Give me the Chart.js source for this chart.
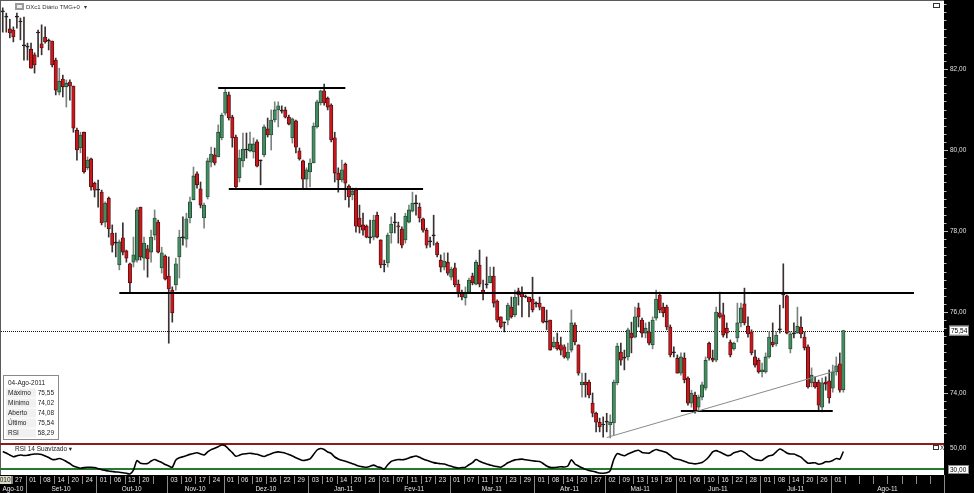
<!DOCTYPE html>
<html>
<head>
<meta charset="utf-8">
<script src="https://cdn.jsdelivr.net/npm/chart.js@4.4.1/dist/chart.umd.min.js"></script>
<style>
  html, body { margin: 0; padding: 0; background: #000; }
  #wrap { position: relative; width: 974px; height: 493px; background: #000; overflow: hidden; }
  #price { position: absolute; left: 0; top: 0; }
  #rsi { position: absolute; left: 0; top: 442px; }
</style>
</head>
<body>
<div id="wrap">
  <canvas id="price" width="974" height="442"></canvas>
  <canvas id="rsi" width="974" height="51"></canvas>
</div>
<script>
// DXc1 daily candles, 25-Aug-2010 .. 04-Aug-2011
const openP = [
  83.41, 83.28, 82.99, 82.96, 83.28, 83.16, 82.57, 82.54, 82.49, 82.35,
  82.89, 82.62, 82.79, 82.69, 82.69, 82.22, 81.43, 81.75, 81.56, 81.68,
  81.58, 80.49, 80.05, 80.44, 79.56, 79.78, 79.18, 79.01, 78.96, 78.22,
  78.81, 77.95, 77.70, 77.16, 77.83, 77.51, 77.19, 77.23, 77.28, 78.59,
  77.33, 77.56, 77.48, 77.90, 78.22, 77.09, 77.38, 76.89, 76.54, 76.67,
  77.36, 77.83, 77.80, 78.32, 78.77, 79.41, 79.04, 78.32, 78.84, 79.70,
  79.88, 79.83, 80.30, 80.91, 81.36, 80.81, 80.32, 79.31, 79.73, 80.00,
  79.98, 79.95, 80.20, 79.73, 79.88, 80.52, 80.37, 80.74, 80.99, 80.96,
  80.99, 80.81, 80.30, 80.72, 79.98, 79.73, 79.28, 79.46, 79.68, 80.57,
  81.16, 81.46, 81.28, 81.11, 80.30, 79.43, 79.26, 79.65, 79.11, 78.89,
  79.01, 78.32, 78.15, 78.12, 77.83, 77.85, 78.39, 77.78, 77.16, 77.21,
  77.95, 78.20, 78.12, 78.05, 77.78, 78.22, 78.49, 78.67, 78.59, 78.30,
  78.02, 77.73, 77.88, 77.70, 77.28, 77.11, 77.23, 76.86, 77.09, 76.69,
  76.47, 76.35, 76.49, 76.89, 76.69, 77.16, 76.54, 76.67, 76.72, 76.89,
  76.27, 75.88, 75.73, 75.80, 76.12, 75.93, 76.52, 76.47, 76.37, 76.37,
  76.32, 76.20, 76.22, 76.12, 75.75, 75.80, 75.14, 75.26, 75.19, 75.14,
  74.86, 75.06, 75.68, 75.19, 74.20, 74.27, 74.27, 73.75, 73.50, 73.28,
  73.21, 73.28, 73.21, 73.26, 74.25, 75.01, 74.86, 74.89, 75.48, 75.38,
  76.10, 75.80, 75.48, 75.51, 75.19, 75.85, 76.42, 76.12, 76.12, 75.63,
  74.99, 74.86, 74.49, 74.86, 74.37, 73.75, 73.95, 73.65, 73.90, 74.12,
  75.23, 74.86, 74.81, 75.98, 75.93, 75.60, 75.26, 75.09, 75.36, 75.73,
  76.20, 75.65, 75.51, 74.89, 74.81, 74.52, 74.52, 74.89, 75.26, 75.21,
  75.56, 76.42, 76.40, 75.09, 75.46, 75.48, 75.63, 75.38, 75.14, 74.25,
  74.27, 74.27, 73.65, 74.27, 74.30, 74.12, 74.52, 74.72, 74.08
];
const highP = [
  83.51, 83.38, 83.23, 83.04, 83.38, 83.26, 83.28, 82.64, 82.64, 82.40,
  82.96, 83.09, 83.04, 82.74, 82.69, 82.27, 82.02, 81.85, 81.73, 81.73,
  81.58, 80.54, 80.44, 80.44, 79.83, 79.80, 79.21, 79.26, 79.01, 78.72,
  78.84, 78.15, 77.95, 77.78, 78.20, 77.53, 77.21, 77.85, 78.57, 78.59,
  77.85, 77.65, 78.02, 78.52, 78.27, 77.60, 77.41, 77.36, 76.62, 77.33,
  78.02, 78.35, 78.44, 78.84, 79.58, 79.46, 79.21, 78.69, 79.80, 80.07,
  80.05, 80.62, 80.91, 81.53, 81.43, 80.86, 80.37, 80.00, 80.42, 80.42,
  80.44, 80.30, 80.25, 79.75, 80.62, 80.79, 80.99, 81.19, 81.19, 81.09,
  81.06, 80.86, 80.79, 80.74, 80.05, 79.75, 79.56, 79.78, 80.67, 81.23,
  81.48, 81.63, 81.31, 81.14, 80.44, 79.56, 79.75, 79.68, 79.14, 79.06,
  79.06, 78.64, 78.44, 78.15, 78.27, 78.39, 78.47, 77.78, 77.28, 77.95,
  78.35, 78.44, 78.22, 78.10, 78.44, 78.64, 78.96, 78.89, 78.69, 78.32,
  78.07, 77.85, 78.39, 77.73, 77.41, 77.46, 77.46, 77.11, 77.21, 76.79,
  76.54, 76.62, 76.84, 76.96, 77.28, 77.53, 76.79, 77.36, 77.11, 77.11,
  76.30, 75.88, 75.75, 76.22, 76.37, 76.54, 76.59, 76.62, 76.42, 76.37,
  76.86, 76.25, 76.37, 76.12, 76.05, 75.80, 75.38, 75.48, 75.38, 75.19,
  75.23, 76.05, 75.73, 75.19, 74.49, 74.49, 74.32, 74.00, 73.53, 73.38,
  73.41, 73.50, 73.46, 74.32, 75.23, 75.23, 75.06, 75.60, 75.75, 76.12,
  76.22, 75.85, 75.73, 75.75, 75.88, 76.54, 76.49, 76.22, 76.17, 75.68,
  75.14, 74.94, 74.99, 74.99, 74.40, 74.07, 74.02, 73.95, 74.27, 74.89,
  75.26, 75.06, 76.12, 76.49, 76.22, 75.73, 75.31, 75.26, 76.22, 76.22,
  76.59, 75.88, 75.56, 75.06, 74.86, 74.74, 74.99, 75.51, 75.73, 75.51,
  76.17, 77.19, 76.42, 75.51, 75.73, 76.12, 75.88, 75.51, 75.19, 74.62,
  74.40, 74.32, 74.37, 74.40, 74.57, 74.69, 74.89, 74.99, 75.55
];
const lowP = [
  82.91, 82.91, 82.77, 82.67, 83.01, 82.72, 82.22, 82.22, 82.02, 81.90,
  82.30, 82.35, 82.64, 82.47, 82.05, 81.36, 81.36, 81.31, 81.06, 81.23,
  80.44, 79.75, 79.93, 79.43, 79.51, 79.01, 78.84, 78.59, 78.15, 78.10,
  77.85, 77.48, 77.36, 77.04, 77.41, 77.23, 76.47, 77.11, 77.23, 77.28,
  77.04, 76.86, 77.23, 77.78, 77.46, 76.96, 76.79, 75.23, 75.75, 76.54,
  76.84, 77.65, 77.60, 78.20, 78.77, 79.06, 78.57, 78.07, 78.79, 79.58,
  79.63, 79.83, 80.25, 80.86, 80.74, 80.07, 79.06, 79.21, 79.58, 79.80,
  79.95, 79.80, 79.58, 79.14, 79.83, 80.32, 80.00, 80.69, 80.57, 80.91,
  80.79, 80.62, 80.17, 79.93, 79.75, 79.06, 79.06, 79.09, 79.68, 80.54,
  81.11, 81.11, 80.99, 80.20, 79.21, 78.96, 79.21, 78.77, 78.59, 78.77,
  77.97, 77.95, 77.90, 77.83, 77.70, 77.78, 77.83, 77.09, 76.99, 77.11,
  77.70, 77.95, 77.70, 77.58, 77.70, 78.20, 78.47, 78.39, 78.22, 77.97,
  77.58, 77.60, 77.65, 77.36, 76.99, 77.04, 76.91, 76.79, 76.62, 76.37,
  76.30, 76.17, 76.47, 76.67, 76.67, 76.62, 76.30, 76.59, 76.72, 76.12,
  75.75, 75.60, 75.51, 75.68, 75.85, 75.88, 76.17, 75.88, 76.35, 75.88,
  76.00, 76.12, 76.05, 75.73, 75.56, 75.06, 75.11, 75.06, 74.94, 74.86,
  74.81, 75.01, 75.19, 74.44, 73.90, 73.90, 73.88, 73.41, 73.04, 73.04,
  72.91, 73.04, 72.89, 72.96, 74.20, 74.69, 74.57, 74.81, 74.99, 75.36,
  75.63, 75.38, 75.36, 75.19, 75.09, 75.80, 75.98, 75.88, 75.56, 74.89,
  74.89, 74.49, 74.44, 74.25, 73.70, 73.65, 73.50, 73.58, 73.83, 74.07,
  74.81, 74.77, 74.77, 75.85, 75.38, 75.36, 74.89, 75.06, 75.26, 75.63,
  75.68, 75.38, 74.94, 74.64, 74.49, 74.40, 74.49, 74.86, 75.14, 75.16,
  75.48, 76.10, 75.46, 74.99, 75.36, 75.48, 75.36, 75.06, 74.12, 74.15,
  74.12, 73.58, 73.53, 74.07, 73.75, 74.02, 74.44, 74.02, 74.02
];
const closeP = [
  83.41, 83.28, 82.89, 82.79, 83.28, 83.16, 82.57, 82.54, 82.02, 82.10,
  82.89, 82.52, 82.67, 82.69, 82.10, 81.48, 81.70, 81.56, 81.65, 81.58,
  80.54, 80.00, 80.37, 79.46, 79.75, 79.09, 79.01, 79.01, 78.20, 78.69,
  78.05, 77.65, 77.70, 77.73, 77.48, 77.33, 76.72, 77.41, 78.52, 77.36,
  77.70, 77.31, 77.85, 78.32, 77.48, 77.46, 76.81, 76.57, 75.98, 77.19,
  77.85, 77.83, 78.30, 78.72, 79.36, 79.14, 78.64, 78.64, 79.73, 79.90,
  79.68, 80.44, 80.86, 81.43, 80.79, 80.30, 79.09, 79.80, 80.02, 80.00,
  80.15, 80.15, 79.60, 79.73, 80.57, 80.37, 80.74, 80.99, 81.09, 80.96,
  80.81, 80.64, 80.77, 80.07, 79.78, 79.28, 79.51, 79.68, 80.59, 81.19,
  81.46, 81.16, 81.06, 80.25, 79.43, 79.26, 79.51, 79.18, 78.84, 78.99,
  78.12, 78.10, 78.02, 77.85, 77.83, 78.27, 77.85, 77.16, 77.16, 77.90,
  78.17, 78.20, 78.10, 77.65, 78.37, 78.52, 78.69, 78.67, 78.32, 78.02,
  77.65, 77.73, 77.88, 77.41, 77.11, 77.26, 76.96, 77.06, 76.67, 76.47,
  76.37, 76.49, 76.79, 76.72, 77.23, 76.69, 76.47, 76.67, 76.89, 76.22,
  75.80, 75.63, 75.73, 76.17, 75.88, 76.37, 76.42, 76.37, 76.37, 76.25,
  76.05, 76.20, 76.12, 75.75, 75.75, 75.06, 75.26, 75.09, 75.06, 74.89,
  75.01, 75.73, 75.26, 74.49, 74.27, 74.20, 73.95, 73.50, 73.28, 73.16,
  73.21, 73.28, 73.28, 74.27, 75.16, 74.81, 74.86, 75.56, 75.36, 75.88,
  75.88, 75.48, 75.60, 75.23, 75.80, 76.32, 76.05, 75.98, 75.63, 74.94,
  74.99, 74.49, 74.89, 74.32, 73.75, 74.00, 73.53, 73.90, 74.20, 74.81,
  74.86, 74.81, 76.00, 75.88, 75.43, 75.48, 74.94, 75.23, 75.73, 76.10,
  75.73, 75.46, 74.99, 74.69, 74.52, 74.57, 74.89, 75.38, 75.19, 75.43,
  75.56, 76.42, 75.48, 75.46, 75.46, 75.65, 75.46, 75.11, 74.15, 74.44,
  74.15, 73.70, 74.25, 74.22, 73.88, 74.52, 74.67, 74.07, 75.54
];
// RSI 14 suavizado
const rsiValues = [
  58.2, 55.9, 52.7, 50.1, 51.5, 52.7, 52.0, 52.3, 53.5, 54.3,
  54.3, 53.4, 51.2, 48.7, 45.8, 45.7, 47.3, 45.5, 42.5, 39.4,
  35.5, 33.6, 32.0, 33.0, 33.5, 33.5, 33.0, 31.3, 29.7, 28.6,
  27.6, 26.9, 26.2, 25.8, 25.0, 24.0, 22.9, 29.2, 44.1, 39.7,
  39.1, 39.4, 43.3, 45.7, 43.3, 41.0, 37.8, 35.5, 33.5, 44.9,
  48.4, 49.9, 51.8, 53.7, 55.1, 56.2, 54.3, 52.7, 57.5, 61.2,
  63.4, 65.8, 68.4, 67.3, 61.5, 56.5, 50.7, 52.4, 54.2, 54.8,
  55.4, 54.6, 53.8, 51.8, 50.4, 52.7, 54.8, 56.7, 57.6, 56.7,
  55.6, 53.5, 51.2, 48.5, 46.0, 44.1, 44.9, 46.5, 53.5, 60.6,
  62.9, 61.4, 57.5, 55.1, 49.6, 46.5, 44.4, 43.0, 41.0, 39.1,
  37.1, 35.0, 34.1, 33.6, 35.0, 36.9, 34.5, 33.0, 30.6, 37.4,
  42.7, 44.6, 45.7, 45.2, 46.0, 48.2, 49.8, 51.2, 49.1, 46.6,
  44.4, 42.5, 40.8, 39.7, 39.1, 38.5, 36.7, 35.2, 33.3, 32.2,
  33.0, 33.6, 37.4, 40.7, 45.7, 43.0, 40.5, 38.6, 37.1, 35.5,
  34.5, 33.6, 36.7, 40.5, 43.0, 45.1, 45.8, 46.2, 45.2, 44.6,
  43.6, 43.0, 42.4, 39.4, 35.5, 33.3, 33.0, 33.6, 34.4, 33.9,
  35.5, 45.2, 38.6, 35.5, 32.7, 30.2, 28.3, 27.2, 25.9, 24.5,
  24.2, 24.8, 28.4, 45.7, 54.9, 53.1, 51.5, 54.2, 56.7, 59.0,
  60.1, 56.8, 55.9, 55.7, 59.0, 61.4, 59.8, 58.1, 56.2, 52.1,
  47.7, 46.2, 44.9, 42.9, 40.7, 39.7, 38.8, 39.7, 41.0, 44.9,
  50.5, 57.5, 59.6, 57.3, 54.8, 52.1, 52.3, 56.2, 57.8, 59.3,
  56.8, 52.7, 48.7, 45.7, 44.6, 44.4, 48.5, 51.5, 52.7, 57.8,
  62.2, 59.6, 55.9, 54.3, 54.3, 52.0, 49.3, 44.4, 39.9, 40.2,
  40.5, 38.3, 39.4, 42.2, 42.2, 44.1, 47.3, 46.2, 58.29
];

// drawn support / resistance levels (bar index range, price)
const levelLines = [
  { price: 81.53, from: 61, to: 97 },
  { price: 79.04, from: 64, to: 119 },
  { price: 76.46, from: 33, to: 258 },
  { price: 73.55, from: 192, to: 235 }
];
const trendLine = { from: 171, to: 236, start: 72.90, end: 74.55 };

// axis texts
const priceTicks = [74, 76, 78, 80, 82];
const dayLabels = [
  '27', '01', '08', '14', '20', '24', '01', '06', '13', '20', '',
  '03', '10', '17', '24', '01', '06', '10', '16', '22', '29',
  '03', '10', '14', '20', '26', '01', '07', '11', '17', '23',
  '01', '07', '11', '17', '23', '29', '01', '08', '14', '20', '27',
  '02', '09', '13', '19', '26', '01', '06', '10', '16', '22', '28',
  '01', '08', '14', '20', '26', '01', '', '', '', '', '', '', ''
];
const monthLabels = ['Ago-10', 'Set-10', 'Out-10', 'Nov-10', 'Dez-10', 'Jan-11', 'Fev-11',
  'Mar-11', 'Abr-11', 'Mai-11', 'Jun-11', 'Jul-11', 'Ago-11'];
const monthStartCell = [-1, 1, 6, 11, 15, 21, 26, 31, 37, 42, 47, 53, 58];
const rsiLevels = [{ value: 70, color: '#8c1c1c' }, { value: 30, color: '#247a30' }];
const monthNames = ['Jan', 'Fev', 'Mar', 'Abr', 'Mai', 'Jun', 'Jul', 'Ago', 'Set', 'Out', 'Nov', 'Dez'];

// trading calendar (weekdays minus exchange holidays), runs past the data to fill the axis
const holidays = ['2010-09-06', '2010-11-25', '2010-12-24', '2011-01-17', '2011-02-21',
  '2011-04-22', '2011-05-30', '2011-07-04', '2011-09-05'];
const dates = [];
for (let d = new Date(Date.UTC(2010, 7, 25)); d <= new Date(Date.UTC(2011, 8, 14)); d.setUTCDate(d.getUTCDate() + 1)) {
  const iso = d.toISOString().slice(0, 10);
  if (d.getUTCDay() % 6 !== 0 && !holidays.includes(iso)) dates.push(iso);
}

const FONT = '6.5px "Liberation Sans", Arial, "DejaVu Sans", sans-serif';
const TITLE_FONT = '6px "Liberation Sans", Arial, "DejaVu Sans", sans-serif';
const UP = '#418d60', DOWN = '#c9171e', DOJI = '#1e1e1e';
const fmt = v => v.toFixed(2).replace('.', ',');
const last = closeP.length - 1;

const bodyFill = openP.map((o, i) => closeP[i] > o ? UP : closeP[i] < o ? DOWN : DOJI);
const bodyEdge = openP.map((o, i) => closeP[i] > o ? '#23402e' : closeP[i] < o ? '#4a0c0c' : DOJI);
const wickColor = openP.map((o, i) => closeP[i] > o ? '#7b8580' : '#3a3030');

const pricePanel = {
  id: 'pricePanel',
  beforeDraw(chart) {
    const { ctx, chartArea: a, scales: { y } } = chart;
    ctx.save();
    ctx.fillStyle = '#fff';
    ctx.fillRect(0, 0, a.right, chart.height);
    ctx.strokeStyle = '#5a5a5a';
    ctx.lineWidth = 1;
    ctx.beginPath();
    ctx.moveTo(0, 0.5); ctx.lineTo(a.right, 0.5);
    ctx.moveTo(0.5, 0); ctx.lineTo(0.5, chart.height);
    ctx.stroke();
    // last price line
    const ly = Math.round(y.getPixelForValue(closeP[last])) + 0.5;
    ctx.setLineDash([1, 1]);
    ctx.strokeStyle = '#111';
    ctx.beginPath(); ctx.moveTo(a.left, ly); ctx.lineTo(a.right, ly); ctx.stroke();
    ctx.restore();
  },
  afterDatasetsDraw(chart) {
    const { ctx, scales: { x, y } } = chart;
    ctx.save();
    ctx.strokeStyle = '#000';
    ctx.lineWidth = 2;
    levelLines.forEach(l => {
      const py = Math.round(y.getPixelForValue(l.price));
      ctx.beginPath();
      ctx.moveTo(x.getPixelForValue(l.from), py);
      ctx.lineTo(x.getPixelForValue(l.to), py);
      ctx.stroke();
    });
    ctx.strokeStyle = '#8a8a8a';
    ctx.lineWidth = 1;
    ctx.beginPath();
    ctx.moveTo(x.getPixelForValue(trendLine.from), y.getPixelForValue(trendLine.start));
    ctx.lineTo(x.getPixelForValue(trendLine.to), y.getPixelForValue(trendLine.end));
    ctx.stroke();
    ctx.restore();
  },
  afterDraw(chart) {
    const { ctx, chartArea: a, scales: { y } } = chart;
    ctx.save();
    ctx.font = FONT;
    // right price axis
    ctx.strokeStyle = '#bbb';
    ctx.lineWidth = 1;
    for (let t = 365; t <= 418; t++) {
      const py = Math.round(y.getPixelForValue(t / 5)) + 0.5;
      ctx.beginPath(); ctx.moveTo(a.right, py); ctx.lineTo(a.right + (t % 10 === 0 ? 4 : 2.5), py); ctx.stroke();
    }
    ctx.fillStyle = '#e0e0e0';
    ctx.textBaseline = 'middle';
    ctx.textAlign = 'left';
    priceTicks.forEach(v => ctx.fillText(fmt(v), a.right + 6, y.getPixelForValue(v)));
    // last price box
    const ly = y.getPixelForValue(closeP[last]);
    ctx.fillStyle = '#fff';
    ctx.fillRect(a.right + 5, ly - 5, 20, 10);
    ctx.strokeStyle = '#777';
    ctx.strokeRect(a.right + 5.5, ly - 4.5, 19, 9);
    ctx.fillStyle = '#000';
    ctx.fillText(fmt(closeP[last]), a.right + 7, ly + 0.5);
    // title
    ctx.fillStyle = '#9a9a9a';
    ctx.fillRect(15, 3, 9, 7);
    ctx.fillStyle = '#eee';
    ctx.fillRect(17, 5, 5, 3);
    ctx.font = TITLE_FONT;
    ctx.fillStyle = '#333';
    ctx.fillText('DXc1 Diário TMG+0', 26, 7);
    ctx.fillText('▾', 84, 7);
    ctx.font = FONT;
    // window icon top right
    ctx.strokeStyle = '#333';
    ctx.strokeRect(933.5, 3.5, 6, 4);
    // info box
    const bx = 3.5, by = 375.5;
    ctx.fillStyle = '#fff';
    ctx.fillRect(bx, by, 55, 64);
    ctx.strokeStyle = '#8a8a8a';
    ctx.strokeRect(bx, by, 55, 64);
    const d = dates[last].split('-');
    const rows = [
      ['Máximo', highP[last]], ['Mínimo', lowP[last]], ['Aberto', openP[last]],
      ['Último', closeP[last]], ['RSI', rsiValues[last]]
    ];
    ctx.fillStyle = '#222';
    ctx.fillText(d[2] + '-' + monthNames[+d[1] - 1] + '-' + d[0], 8, 383);
    rows.forEach((r, i) => {
      const ry = 393 + i * 10;
      ctx.fillStyle = '#f1f1f1';
      ctx.fillRect(6, ry - 4.5, 30, 9);
      ctx.fillStyle = '#222';
      ctx.textAlign = 'left';
      ctx.fillText(r[0], 8, ry);
      ctx.textAlign = 'right';
      ctx.fillText(fmt(r[1]), 54, ry);
    });
    ctx.restore();
  }
};

new Chart(document.getElementById('price'), {
  type: 'bar',
  data: {
    labels: dates,
    datasets: [
      {
        label: 'Corpo',
        data: openP.map((o, i) => [o, closeP[i]]),
        backgroundColor: bodyFill,
        borderColor: bodyEdge,
        borderWidth: 0.8,
        borderSkipped: false,
        barThickness: 3.4,
        minBarLength: 1,
        grouped: false
      },
      {
        label: 'Sombra',
        data: lowP.map((l, i) => [l, highP[i]]),
        backgroundColor: wickColor,
        barThickness: 1,
        grouped: false
      }
    ]
  },
  options: {
    responsive: false,
    animation: false,
    events: [],
    layout: { padding: { left: 1, right: 30, top: 0, bottom: 0 } },
    plugins: { legend: { display: false }, tooltip: { enabled: false } },
    scales: {
      x: { type: 'category', display: false, offset: true },
      y: { display: false, min: 72.79, max: 83.704 }
    }
  },
  plugins: [pricePanel]
});

const rsiPanel = {
  id: 'rsiPanel',
  beforeDraw(chart) {
    const { ctx, chartArea: a, scales: { y } } = chart;
    ctx.save();
    ctx.fillStyle = '#fff';
    ctx.fillRect(0, 0, a.right, a.bottom);
    ctx.fillStyle = '#5a5a5a';
    ctx.fillRect(0, 0, 1, a.bottom);
    rsiLevels.forEach(l => {
      ctx.fillStyle = l.color;
      ctx.fillRect(0, Math.round(y.getPixelForValue(l.value)) - 1, a.right, 2);
    });
    ctx.restore();
  },
  afterDraw(chart) {
    const { ctx, chartArea: a, scales: { x, y } } = chart;
    const w = x.getPixelForValue(1) - x.getPixelForValue(0);
    const edge = i => x.getPixelForValue(i) - w / 2;
    const cellEdge = k => edge(4 * k + 3);
    ctx.save();
    ctx.font = FONT;
    ctx.textBaseline = 'middle';
    // panel label and icons
    ctx.fillStyle = '#222';
    ctx.fillText('RSI 14 Suavizado ▾', 15, 7);
    ctx.strokeStyle = '#333';
    ctx.lineWidth = 1;
    ctx.strokeRect(933.5, 3.5, 5, 4);
    ctx.fillText('X', 940, 6);
    // right axis labels
    ctx.fillStyle = '#e0e0e0';
    ctx.fillText(fmt(50), a.right + 6, y.getPixelForValue(50) - 9);
    ctx.fillStyle = '#fff';
    const gy = y.getPixelForValue(30);
    ctx.fillRect(a.right + 4, gy - 4.5, 21, 9);
    ctx.strokeStyle = '#888';
    ctx.strokeRect(a.right + 4.5, gy - 4, 20, 8);
    ctx.fillStyle = '#000';
    ctx.fillText(fmt(30), a.right + 6, gy + 0.5);
    // time axis
    const top = a.bottom, mid = a.bottom + 9, bot = chart.height;
    ctx.fillStyle = '#000';
    ctx.fillRect(0, top, chart.width, bot - top);
    ctx.textAlign = 'center';
    ctx.strokeStyle = '#8a8a8a';
    for (let k = -1; k < dayLabels.length; k++) {
      const x0 = cellEdge(k), x1 = Math.min(cellEdge(k + 1), a.right);
      if (k === -1) {
        ctx.fillStyle = '#d9dcc6';
        ctx.fillRect(0, top + 1, x1, 8);
        ctx.fillStyle = '#222';
        ctx.textAlign = 'right';
        ctx.fillText('2010', x1 - 1, top + 5);
        ctx.textAlign = 'center';
        continue;
      }
      ctx.beginPath(); ctx.moveTo(Math.round(x0) + 0.5, top + 1); ctx.lineTo(Math.round(x0) + 0.5, mid); ctx.stroke();
      ctx.fillStyle = '#e6e6e6';
      ctx.fillText(dayLabels[k], (x0 + x1) / 2, top + 5);
    }
    monthLabels.forEach((m, i) => {
      const x0 = Math.max(0, cellEdge(monthStartCell[i]));
      const x1 = i + 1 < monthLabels.length ? cellEdge(monthStartCell[i + 1]) : a.right;
      if (i > 0) {
        ctx.beginPath(); ctx.moveTo(Math.round(x0) + 0.5, mid); ctx.lineTo(Math.round(x0) + 0.5, bot); ctx.stroke();
      }
      ctx.fillStyle = '#e6e6e6';
      ctx.fillText(m, (x0 + x1) / 2, mid + 5);
    });
    ctx.beginPath(); ctx.moveTo(Math.round(a.right) + 0.5, top); ctx.lineTo(Math.round(a.right) + 0.5, bot); ctx.stroke();
    ctx.restore();
  }
};

new Chart(document.getElementById('rsi'), {
  type: 'line',
  data: {
    labels: dates,
    datasets: [{
      label: 'RSI',
      data: rsiValues,
      borderColor: '#000',
      borderWidth: 1.6,
      pointRadius: 0,
      tension: 0.25,
      fill: false
    }]
  },
  options: {
    responsive: false,
    animation: false,
    events: [],
    layout: { padding: { left: 1, right: 30, top: 1, bottom: 18 } },
    plugins: { legend: { display: false }, tooltip: { enabled: false } },
    scales: {
      x: { type: 'category', display: false, offset: true },
      y: { display: false, min: 21.37, max: 71.57 }
    }
  },
  plugins: [rsiPanel]
});
</script>
</body>
</html>
